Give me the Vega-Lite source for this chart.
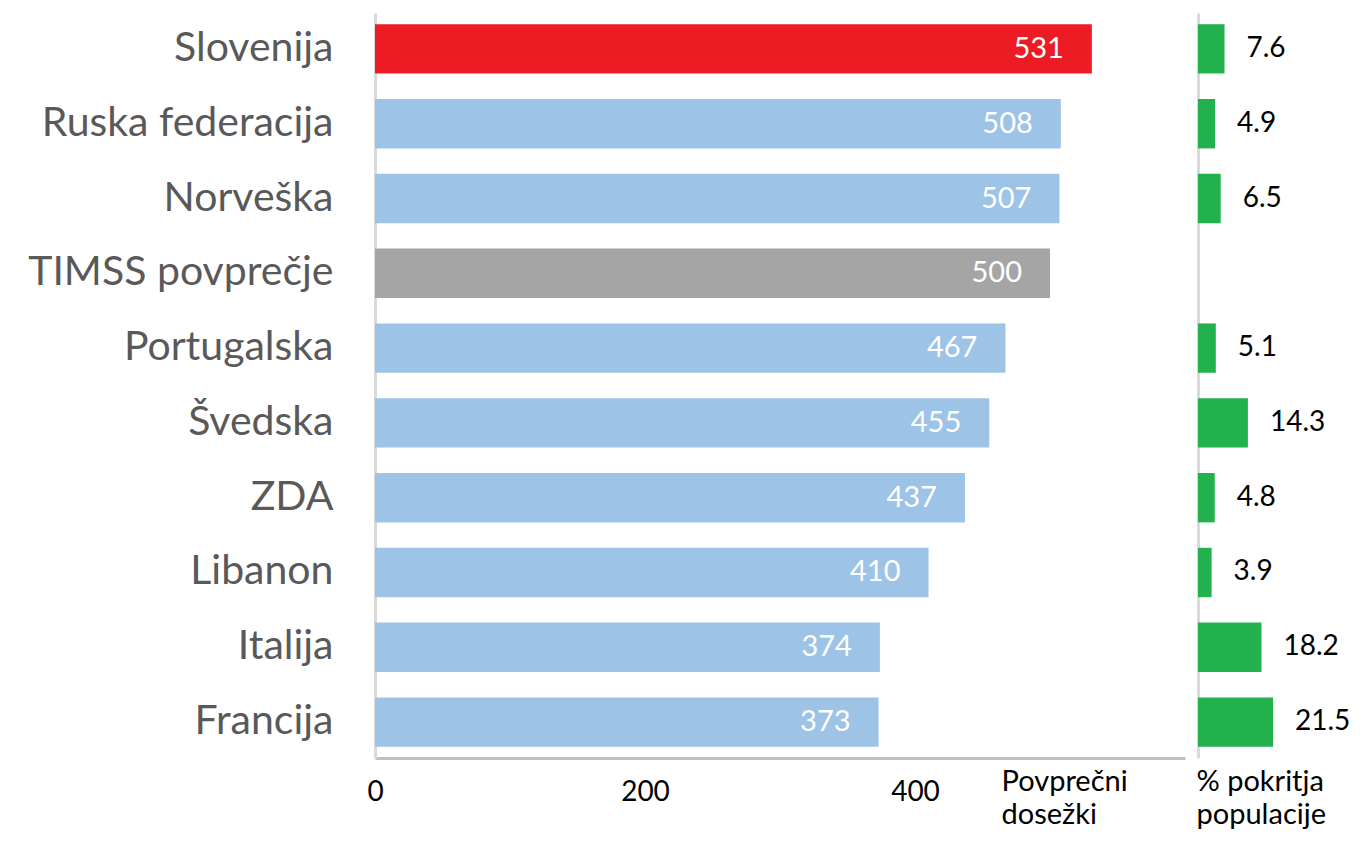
{
  "$schema": "https://vega.github.io/schema/vega-lite/v6.json",
  "padding": {"left": 0, "top": 13, "right": 0, "bottom": 0},
  "background": "white",
  "config": {"view": {"stroke": null}, "font": "Lato"},
  "datasets": {
    "main": [
      {"drzava": "Slovenija", "dosezek": 531, "pokritje": 7.6, "tip": "si"},
      {"drzava": "Ruska federacija", "dosezek": 508, "pokritje": 4.9, "tip": "drugo"},
      {"drzava": "Norveška", "dosezek": 507, "pokritje": 6.5, "tip": "drugo"},
      {"drzava": "TIMSS povprečje", "dosezek": 500, "pokritje": null, "tip": "povp"},
      {"drzava": "Portugalska", "dosezek": 467, "pokritje": 5.1, "tip": "drugo"},
      {"drzava": "Švedska", "dosezek": 455, "pokritje": 14.3, "tip": "drugo"},
      {"drzava": "ZDA", "dosezek": 437, "pokritje": 4.8, "tip": "drugo"},
      {"drzava": "Libanon", "dosezek": 410, "pokritje": 3.9, "tip": "drugo"},
      {"drzava": "Italija", "dosezek": 374, "pokritje": 18.2, "tip": "drugo"},
      {"drzava": "Francija", "dosezek": 373, "pokritje": 21.5, "tip": "drugo"}
    ]
  },
  "spacing": 11,
  "hconcat": [
    {
      "width": 810,
      "height": 745,
      "data": {"name": "main"},
      "encoding": {
        "y": {
          "field": "drzava", "type": "nominal", "sort": null,
          "scale": {"domain": ["Slovenija","Ruska federacija","Norveška","TIMSS povprečje","Portugalska","Švedska","ZDA","Libanon","Italija","Francija"], "paddingInner": 0.34, "paddingOuter": 0.15},
          "axis": {
            "title": null, "ticks": false, "labelFontSize": 41, "labelColor": "#595959",
            "labelPadding": 42, "minExtent": 375, "maxExtent": 375, "labelLimit": 400,
            "domainColor": "#d9d9d9", "domainWidth": 3
          }
        }
      },
      "layer": [
        {
          "mark": {"type": "bar"},
          "encoding": {
            "x": {
              "field": "dosezek", "type": "quantitative",
              "scale": {"domain": [0, 600], "nice": false},
              "axis": {
                "values": [0, 200, 400], "grid": false, "ticks": false, "labelFlush": false,
                "labelFontSize": 28, "labelColor": "#000000", "labelPadding": 20,
                "domainColor": "#bfbfbf", "domainWidth": 3,
                "title": ["Povprečni", "dosežki"], "titleFontSize": 29, "titleFontWeight": "normal",
                "titleColor": "#000000", "titleAnchor": "start", "titleAlign": "left",
                "titleBaseline": "top", "titleX": 626, "titleY": 9, "titleLineHeight": 33
              }
            },
            "color": {
              "field": "tip", "type": "nominal", "legend": null,
              "scale": {"domain": ["si", "drugo", "povp"], "range": ["#ED1C24", "#9DC3E6", "#A5A5A5"]}
            }
          }
        },
        {
          "mark": {"type": "text", "align": "right", "baseline": "middle", "dx": -28, "fontSize": 29, "color": "white"},
          "encoding": {
            "x": {"field": "dosezek", "type": "quantitative"},
            "text": {"field": "dosezek", "type": "quantitative"}
          }
        }
      ]
    },
    {
      "width": 164,
      "height": 745,
      "data": {"name": "main"},
      "transform": [{"filter": "datum.pokritje != null"}],
      "encoding": {
        "y": {
          "field": "drzava", "type": "nominal", "sort": null,
          "scale": {"domain": ["Slovenija","Ruska federacija","Norveška","TIMSS povprečje","Portugalska","Švedska","ZDA","Libanon","Italija","Francija"], "paddingInner": 0.34, "paddingOuter": 0.15},
          "axis": {
            "title": null, "ticks": false, "labels": false, "minExtent": 0, "maxExtent": 0,
            "domainColor": "#d9d9d9", "domainWidth": 3
          }
        }
      },
      "layer": [
        {
          "mark": {"type": "bar", "color": "#22B14C"},
          "encoding": {
            "x": {
              "field": "pokritje", "type": "quantitative",
              "scale": {"domain": [0, 47], "nice": false},
              "axis": {
                "grid": false, "ticks": false, "labels": false, "domain": false,
                "title": ["% pokritja", "populacije"], "titleFontSize": 29, "titleFontWeight": "normal",
                "titleColor": "#000000", "titleAnchor": "start", "titleAlign": "left",
                "titleBaseline": "top", "titleX": -2, "titleY": 9, "titleLineHeight": 33
              }
            }
          }
        },
        {
          "mark": {"type": "text", "align": "left", "baseline": "middle", "dx": 22, "fontSize": 28, "color": "black"},
          "encoding": {
            "x": {"field": "pokritje", "type": "quantitative"},
            "text": {"field": "pokritje", "type": "quantitative", "format": ".1f"}
          }
        }
      ]
    }
  ]
}
